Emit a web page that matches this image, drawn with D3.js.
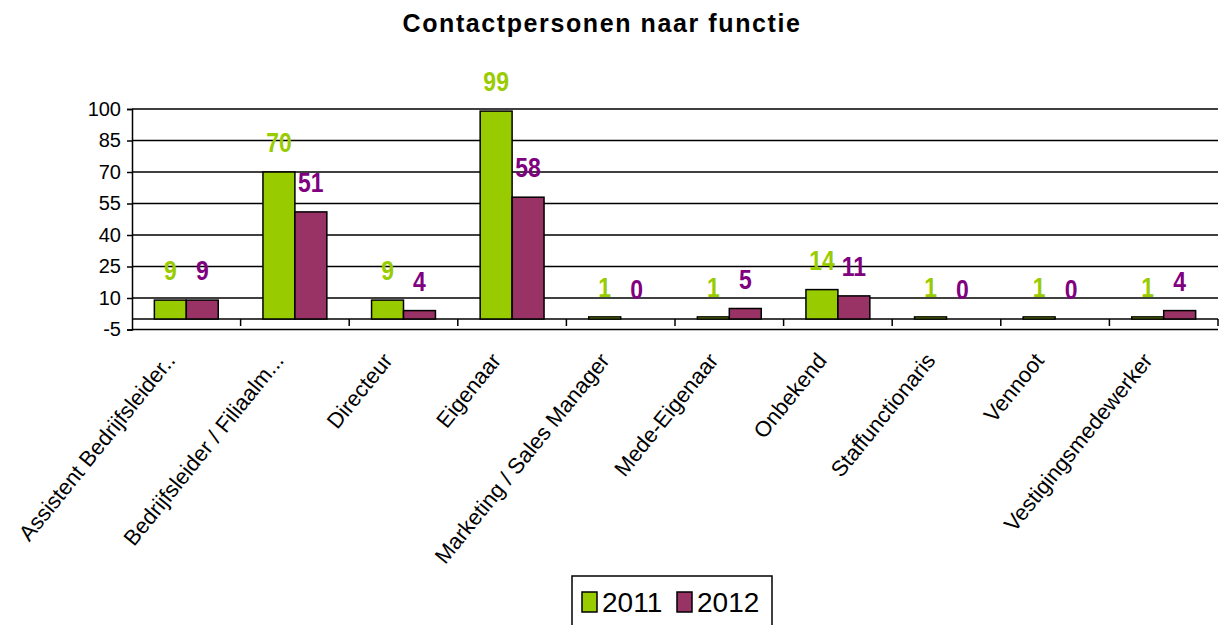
<!DOCTYPE html>
<html>
<head>
<meta charset="utf-8">
<script src="https://cdn.jsdelivr.net/npm/d3@7"></script>
<style>
    body { margin: 0; background: #fff; }
    text { font-family: Arial, "Liberation Sans", sans-serif; }
</style>
</head>
<body>
<div class="chart"></div>
<script>
var categories = ["Assistent Bedrijfsleider..", "Bedrijfsleider / Filiaalm...", "Directeur", "Eigenaar",
    "Marketing / Sales Manager", "Mede-Eigenaar", "Onbekend", "Staffunctionaris", "Vennoot", "Vestigingsmedewerker"];
var years = ["2011", "2012"];
var values2011 = [9, 70, 9, 99, 1, 1, 14, 1, 1, 1];
var values2012 = [9, 51, 4, 58, 0, 5, 11, 0, 0, 4];
var yTicks = [-5, 10, 25, 40, 55, 70, 85, 100];

var barColors = { "2011": "#99cc00", "2012": "#993366" };
var labelColors = { "2011": "#99cc00", "2012": "#800080" };

function drawChart() {
    var W = 1224, H = 625;
    var plot = { left: 132, right: 1218, top: 109, bottom: 329.5 };

    var data = categories.map(function (c, i) {
        return { name: c, values: [{ year: "2011", v: values2011[i] }, { year: "2012", v: values2012[i] }] };
    });

    var svg = d3.select(".chart").append("svg")
        .attr("width", W)
        .attr("height", H);

    var x0 = d3.scaleBand()
        .domain(categories)
        .range([plot.left, plot.right])
        .padding(0);

    var x1 = d3.scaleBand()
        .domain(years)
        .range([0, x0.bandwidth()])
        .paddingInner(0)
        .paddingOuter(0.7);

    var y = d3.scaleLinear()
        .domain([-5, 100])
        .range([plot.bottom, plot.top]);

    // title
    svg.append("text")
        .attr("x", 602)
        .attr("y", 32)
        .attr("text-anchor", "middle")
        .style("font-size", "25px")
        .style("letter-spacing", "1.6px")
        .style("font-weight", "bold")
        .text("Contactpersonen naar functie");

    // gridlines
    svg.append("g").selectAll("line")
        .data(yTicks)
        .enter().append("line")
        .attr("x1", plot.left)
        .attr("x2", plot.right)
        .attr("y1", function (d) { return y(d); })
        .attr("y2", function (d) { return y(d); })
        .style("stroke", "#000")
        .style("stroke-width", "1.5px");

    // y axis
    var yAxis = svg.append("g")
        .attr("transform", "translate(" + plot.left + ",0)")
        .call(d3.axisLeft(y).tickValues(yTicks).tickSize(5).tickPadding(6)
            .tickFormat(function (d) { return String(d); }));
    yAxis.select(".domain").style("stroke", "#000").style("stroke-width", "1.5px");
    yAxis.selectAll(".tick line").style("stroke-width", "1.5px");
    yAxis.selectAll("text")
        .style("font-size", "20px")
        .style("font-family", "Arial, 'Liberation Sans', sans-serif")
        .attr("fill", "#000");

    // category axis at zero
    svg.append("line")
        .attr("x1", plot.left)
        .attr("x2", plot.right)
        .attr("y1", y(0))
        .attr("y2", y(0))
        .style("stroke", "#000")
        .style("stroke-width", "1.5px");

    var bounds = categories.map(function (c) { return x0(c); }).concat([plot.right]);
    svg.append("g").selectAll("line")
        .data(bounds.slice(1))
        .enter().append("line")
        .attr("x1", function (d) { return d; })
        .attr("x2", function (d) { return d; })
        .attr("y1", y(0))
        .attr("y2", y(0) + 7)
        .style("stroke", "#000")
        .style("stroke-width", "1.5px");

    // bars
    var group = svg.selectAll(".cat")
        .data(data)
        .enter().append("g")
        .attr("class", "cat")
        .attr("transform", function (d) { return "translate(" + x0(d.name) + ",0)"; });

    group.selectAll("rect")
        .data(function (d) { return d.values.filter(function (v) { return v.v > 0; }); })
        .enter().append("rect")
        .attr("x", function (d) { return x1(d.year); })
        .attr("width", x1.bandwidth())
        .attr("y", function (d) { return y(d.v); })
        .attr("height", function (d) { return y(0) - y(d.v); })
        .style("fill", function (d) { return barColors[d.year]; })
        .style("stroke", "#000")
        .style("stroke-width", "1.5px");

    // value labels
    group.selectAll(".vlabel")
        .data(function (d) { return d.values; })
        .enter().append("text")
        .attr("class", "vlabel")
        .attr("text-anchor", "middle")
        .attr("transform", function (d) {
            return "translate(" + (x1(d.year) + x1.bandwidth() / 2) + "," + (y(d.v) - 20) + ") scale(0.82,1)";
        })
        .style("font-size", "28px")
        .style("font-weight", "bold")
        .style("fill", function (d) { return labelColors[d.year]; })
        .text(function (d) { return d.v; });

    // category labels
    svg.append("g").selectAll("text")
        .data(categories)
        .enter().append("text")
        .attr("text-anchor", "end")
        .attr("transform", function (d) {
            return "translate(" + (x0(d) + x0.bandwidth() / 2 - 10) + "," + (y(0) + 42) + ") rotate(-51)";
        })
        .style("font-size", "22px")
        .text(function (d) { return d; });

    // legend
    var legend = svg.append("g").attr("transform", "translate(572,576)");
    legend.append("rect")
        .attr("width", 200)
        .attr("height", 70)
        .style("fill", "#fff")
        .style("stroke", "#000")
        .style("stroke-width", "1.5px");

    var items = legend.selectAll(".item")
        .data(years)
        .enter().append("g")
        .attr("class", "item")
        .attr("transform", function (d, i) { return "translate(" + (10 + i * 95) + ",0)"; });

    items.append("rect")
        .attr("y", 16)
        .attr("width", 15)
        .attr("height", 20)
        .style("fill", function (d) { return barColors[d]; })
        .style("stroke", "#000")
        .style("stroke-width", "1.5px");

    items.append("text")
        .attr("x", 20)
        .attr("y", 36)
        .style("font-size", "28px")
        .text(function (d) { return d; });
}

drawChart();
</script>
</body>
</html>
